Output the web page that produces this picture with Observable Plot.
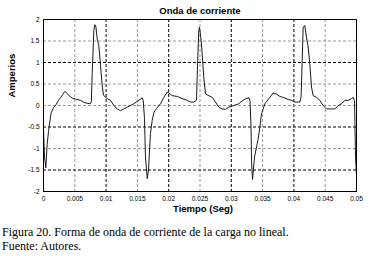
<!DOCTYPE html>
<html>
<head>
<meta charset="utf-8">
<script src="https://cdn.jsdelivr.net/npm/d3@7"></script>
<script src="https://cdn.jsdelivr.net/npm/@observablehq/plot@0.6"></script>
<style>
  html, body { margin: 0; padding: 0; background: #fff; }
  #wrap { width: 372px; height: 256px; overflow: hidden; position: relative; }
  #caption { position: absolute; left: 2px; top: 225px; font-family: "Liberation Serif", "Times New Roman", serif; font-size: 12px; line-height: 14px; color: #000; white-space: nowrap; }
</style>
</head>
<body>
<div id="wrap">
  <div id="chart"></div>
  <div id="caption">Figura 20. Forma de onda de corriente de la carga no lineal.<br>Fuente: Autores.</div>
</div>
<script>
const titulo = "Onda de corriente";
const etiquetaX = "Tiempo (Seg)";
const etiquetaY = "Amperios";

const tiempo = [
  0.0000, 0.00016, 0.00037, 0.00059, 0.0008, 0.00101, 0.0012, 0.0016, 0.00192, 0.0024,
  0.00272, 0.00304, 0.00327, 0.00351, 0.00383, 0.00431, 0.00463, 0.00511, 0.00591, 0.00639,
  0.00698, 0.00751, 0.00765, 0.00778, 0.00804, 0.00819, 0.00835, 0.00858, 0.00883, 0.0091,
  0.00938, 0.00958, 0.01018, 0.0107, 0.01124, 0.01177, 0.0123, 0.01283, 0.01337, 0.01443,
  0.01523, 0.01577, 0.01593, 0.01613, 0.01629, 0.01657, 0.01677, 0.01709, 0.01736, 0.01762,
  0.01789, 0.01869, 0.01922, 0.01976, 0.02002, 0.02056, 0.02136, 0.02216, 0.02296, 0.02348,
  0.024, 0.02444, 0.0246, 0.0248, 0.02492, 0.02519, 0.02535, 0.0256, 0.02588, 0.02641,
  0.02694, 0.02747, 0.02801, 0.02854, 0.02907, 0.0296, 0.0304, 0.0312, 0.0315, 0.0323,
  0.03283, 0.03299, 0.03315, 0.03323, 0.03339, 0.03371, 0.0343, 0.03456, 0.03482, 0.03509,
  0.03536, 0.03616, 0.03669, 0.03722, 0.03775, 0.03829, 0.03909, 0.03962, 0.04015, 0.04095,
  0.04115, 0.04148, 0.04174, 0.04201, 0.04228, 0.04254, 0.04281, 0.04308, 0.04361, 0.04414,
  0.04468, 0.04521, 0.04601, 0.04654, 0.04708, 0.04761, 0.04814, 0.04867, 0.0492, 0.04947,
  0.04968, 0.04975, 0.04984, 0.05
];
const corriente = [
  -0.55, -1.2, -1.45, -0.9, -0.6, -0.38, -0.18, -0.05, 0.0, 0.12,
  0.18, 0.25, 0.31, 0.32, 0.27, 0.2, 0.17, 0.15, 0.12, 0.08,
  0.05, 0.04, 0.1, 0.74, 1.74, 1.88, 1.85, 1.55, 1.4, 0.95,
  0.45, 0.24, 0.16, 0.12, 0.0, -0.08, -0.12, -0.08, -0.04, 0.04,
  0.12, 0.18, 0.12, -0.3, -1.2, -1.7, -1.5, -0.65, -0.35, -0.17,
  -0.1, 0.04, 0.19, 0.31, 0.29, 0.23, 0.21, 0.16, 0.12, 0.08,
  0.08, 0.12, 0.9, 1.74, 1.82, 1.51, 1.2, 0.66, 0.27, 0.23,
  0.19, 0.08, -0.04, -0.08, -0.09, -0.04, 0.0, 0.04, 0.08, 0.16,
  0.18, 0.1, -0.5, -1.3, -1.72, -1.2, -0.77, -0.5, -0.2, -0.08,
  0.04, 0.19, 0.29, 0.27, 0.21, 0.19, 0.14, 0.12, 0.08, 0.08,
  0.2, 1.82, 1.86, 1.59, 1.36, 0.97, 0.43, 0.23, 0.19, 0.12,
  0.0, -0.08, -0.08, -0.08, 0.0, 0.04, 0.12, 0.12, 0.16, 0.19,
  0.12, -0.4, -1.2, -1.62
];

const xTicks = [0, 0.005, 0.01, 0.015, 0.02, 0.025, 0.03, 0.035, 0.04, 0.045, 0.05];
const xTickLabels = ["0", "0.005", "0.01", "0.015", "0.02", "0.025", "0.03", "0.035", "0.04", "0.045", "0.05"];
const yTicks = [2, 1.5, 1, 0.5, 0, -0.5, -1, -1.5, -2];
const yTickLabels = ["2", "1.5", "1", "0.5", "0", "-0.5", "-1", "-1.5", "-2"];

const datos = tiempo.map((t, i) => ({t, a: corriente[i]}));
const xGrid = xTicks.slice(1, -1);
const yGrid = yTicks.slice(1, -1);
const darkY = new Set([1, -0.5, -1.5]);

const chart = Plot.plot({
  width: 372,
  height: 224,
  marginLeft: 43,
  marginRight: 16,
  marginTop: 19,
  marginBottom: 33,
  style: {fontFamily: "Arial, 'Liberation Sans', sans-serif", background: "#fff", color: "#000"},
  x: {domain: [0, 0.05]},
  y: {domain: [-2, 2]},
  marks: [
    Plot.ruleX(xGrid, {x: d => d, stroke: (d, i) => (i % 2 === 1 ? "#000" : "#999"), strokeDasharray: "3,2", strokeWidth: 1}),
    Plot.ruleY(yGrid, {y: d => d, stroke: d => (darkY.has(d) ? "#000" : "#999"), strokeDasharray: "3,2", strokeWidth: 1}),
    Plot.line(datos, {x: "t", y: "a", stroke: "#1a1a1a", strokeWidth: 1}),
    Plot.frame({stroke: "#000", strokeWidth: 1}),
    Plot.axisX(xTicks, {tickSize: 0, tickPadding: 5, fontSize: 6.5, tickFormat: (d, i) => xTickLabels[i], label: null, style: "letter-spacing:0.6px"}),
    Plot.axisY(yTicks, {tickSize: 0, tickPadding: 4, fontSize: 6.5, tickFormat: (d, i) => yTickLabels[i], label: null}),
    Plot.text([titulo], {frameAnchor: "top", dy: -12, fontWeight: "bold", fontSize: 9.5}),
    Plot.text([etiquetaX], {frameAnchor: "bottom", dy: 20, dx: 3, fontWeight: "bold", fontSize: 9.5}),
    Plot.text([etiquetaY], {frameAnchor: "left", dx: -32, dy: -8, rotate: -90, fontWeight: "bold", fontSize: 9.5})
  ]
});
document.getElementById("chart").appendChild(chart);
</script>
</body>
</html>
